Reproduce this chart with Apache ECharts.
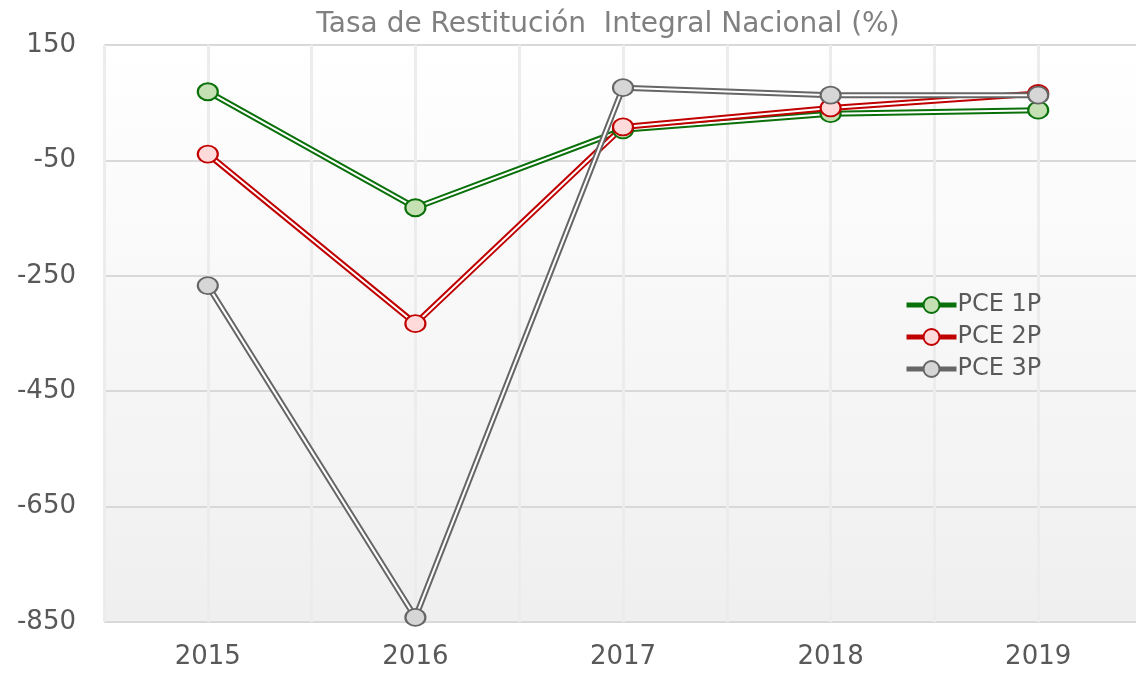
<!DOCTYPE html>
<html>
<head>
<meta charset="utf-8">
<script src="https://cdn.jsdelivr.net/npm/echarts@6/dist/echarts.min.js"></script>
<style>
  html, body { margin: 0; padding: 0; background: #fff; }
  #chart { width: 1136px; height: 676px; }
</style>
</head>
<body>
<div id="chart"></div>
<script>
const years = ['2015', '2016', '2017', '2018', '2019']
const pce1p = [69, -132, 3, 31, 37]
const pce2p = [-39, -333, 8, 41, 66]
const pce3p = [-267, -842, 76, 63, 63]
const yTicks = { min: -850, max: 150, step: 200 }

const lines = [
  { name: 'PCE 1P', data: pce1p, stroke: '#0a700a', fill: '#c5e0b3' },
  { name: 'PCE 2P', data: pce2p, stroke: '#c00000', fill: '#ffdada' },
  { name: 'PCE 3P', data: pce3p, stroke: '#666666', fill: '#d6d6d6' }
]

const font = 'DejaVu Sans'
const series = []

// outer coloured stroke + white core gives the double-line look
lines.forEach(l => {
  series.push({
    name: l.name,
    type: 'line',
    data: l.data,
    symbol: 'circle',
    symbolSize: [20, 17],
    showSymbol: false,
    lineStyle: { color: l.stroke, width: 6 },
    itemStyle: { color: l.fill, borderColor: l.stroke, borderWidth: 2 }
  })
  series.push({
    name: l.name + ' core',
    type: 'line',
    data: l.data,
    showSymbol: false,
    lineStyle: { color: '#ffffff', width: 2 }
  })
})

// markers on top of all lines
lines.forEach(l => {
  series.push({
    name: l.name + ' mk',
    type: 'line',
    data: l.data,
    symbol: 'circle',
    symbolSize: [20, 17],
    lineStyle: { opacity: 0 },
    itemStyle: { color: l.fill, borderColor: l.stroke, borderWidth: 2 }
  })
})

const chart = echarts.init(document.getElementById('chart'))
chart.setOption({
  animation: false,
  backgroundColor: '#ffffff',
  graphic: [{
    type: 'rect',
    z: -10,
    silent: true,
    shape: { x: 104, y: 45, width: 1040, height: 577 },
    style: {
      fill: new echarts.graphic.LinearGradient(0, 0, 0, 1, [
        { offset: 0, color: '#ffffff' },
        { offset: 1, color: '#efefef' }
      ])
    }
  }],
  title: {
    text: 'Tasa de Restitución  Integral Nacional (%)',
    left: 603,
    textAlign: 'center',
    top: 6,
    textStyle: { fontFamily: font, fontSize: 28, fontWeight: 'normal', color: '#808080' }
  },
  legend: {
    data: lines.map(l => l.name),
    orient: 'vertical',
    left: 899,
    top: 288,
    itemWidth: 50,
    itemHeight: 20,
    itemGap: 8,
    lineStyle: { width: 5 },
    textStyle: { fontFamily: font, fontSize: 24, color: '#595959', padding: [0, 0, 0, -4] }
  },
  grid: {
    left: 104,
    width: 1038,
    top: 45,
    bottom: 54,
    outerBoundsMode: 'none',
    containLabel: false,
    show: false
  },
  xAxis: [
    {
      type: 'category',
      data: years,
      boundaryGap: true,
      axisLine: { show: false },
      axisTick: { show: false },
      splitLine: { show: false },
      axisLabel: { fontFamily: font, fontSize: 26, color: '#595959', margin: 22 }
    },
    {
      type: 'value',
      min: 0,
      max: 10,
      interval: 1,
      show: true,
      axisLine: { show: false },
      axisTick: { show: false },
      axisLabel: { show: false },
      splitLine: { show: true, lineStyle: { color: '#ececec', width: 3 } }
    }
  ],
  yAxis: {
    type: 'value',
    min: yTicks.min,
    max: yTicks.max,
    interval: yTicks.step,
    axisLine: { show: false },
    axisTick: { show: false },
    axisLabel: { fontFamily: font, fontSize: 26, color: '#595959', margin: 28 },
    splitLine: { lineStyle: { color: '#d9d9d9', width: 2 } }
  },
  series: series
})
</script>
</body>
</html>
